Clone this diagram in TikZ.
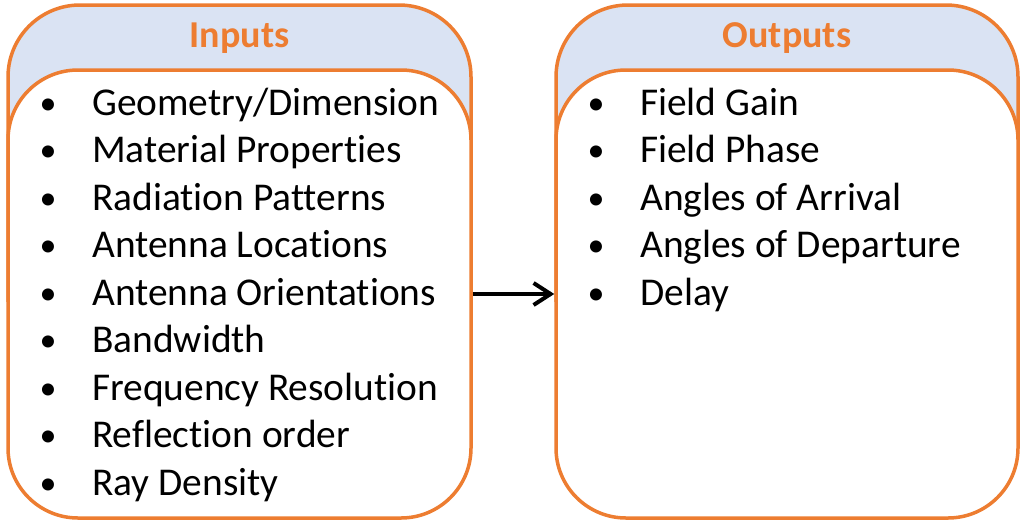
\documentclass[tikz,border=0pt]{standalone}
\usepackage{fontspec}
\setmainfont{Carlito}[Ligatures=NoCommon]
\usetikzlibrary{arrows.meta}
\definecolor{orng}{HTML}{ED7D31}
\definecolor{hdr}{HTML}{DAE3F3}
\begin{document}
\begin{tikzpicture}[x=1pt,y=-1pt,
  panelline/.style={draw=orng,line width=3.5pt},
  innerbox/.style={panelline,fill=white,rounded corners=70pt,minimum width=463pt,minimum height=448pt,inner sep=0pt},
  titletext/.style={anchor=base,text=orng,font=\fontsize{38}{44}\selectfont\bfseries},
  itemtext/.style={anchor=base west,inner sep=0pt,font=\fontsize{39.4}{47}\selectfont},
  bullettext/.style={anchor=base,inner sep=0pt,font=\fontsize{34}{40}\selectfont},
  link/.style={line width=4pt,-{Straight Barb[length=17pt,width=22pt,line width=4pt]}}]
\useasboundingbox (0,0) rectangle (1022,522);
% left panel
\path[panelline,fill=hdr] (8,300) [rounded corners=72pt] -- (8,5) -- (471,5) -- (471,300) [sharp corners] -- cycle;
\node[innerbox] (inbox) at (239.5,294) {};
\node[titletext] (intitle) at (239.5,47) {Inputs};
% right panel
\path[panelline,fill=hdr] (556,300) [rounded corners=72pt] -- (556,5) -- (1018,5) -- (1018,300) [sharp corners] -- cycle;
\node[innerbox,minimum width=462pt] (outbox) at (787,294) {};
\node[titletext] (outtitle) at (787,47) {Outputs};
% items
\foreach \t [count=\i] in {Geometry/Dimension,Material Properties,Radiation Patterns,Antenna Locations,Antenna Orientations,Bandwidth,Frequency Resolution,Reflection order,Ray Density}{
  \node[bullettext] (inb\i) at (48,{114+47.5*(\i-1)}) {•};
  \node[itemtext] (in\i) at (92,{115+47.5*(\i-1)}) {\t};
}
\foreach \t [count=\i] in {Field Gain,Field Phase,Angles of Arrival,Angles of Departure,Delay}{
  \node[bullettext] (outb\i) at (596,{114+47.5*(\i-1)}) {•};
  \node[itemtext] (out\i) at (640,{115+47.5*(\i-1)}) {\t};
}
\draw[link] (inbox.east) -- (outbox.west);
\end{tikzpicture}
\end{document}
